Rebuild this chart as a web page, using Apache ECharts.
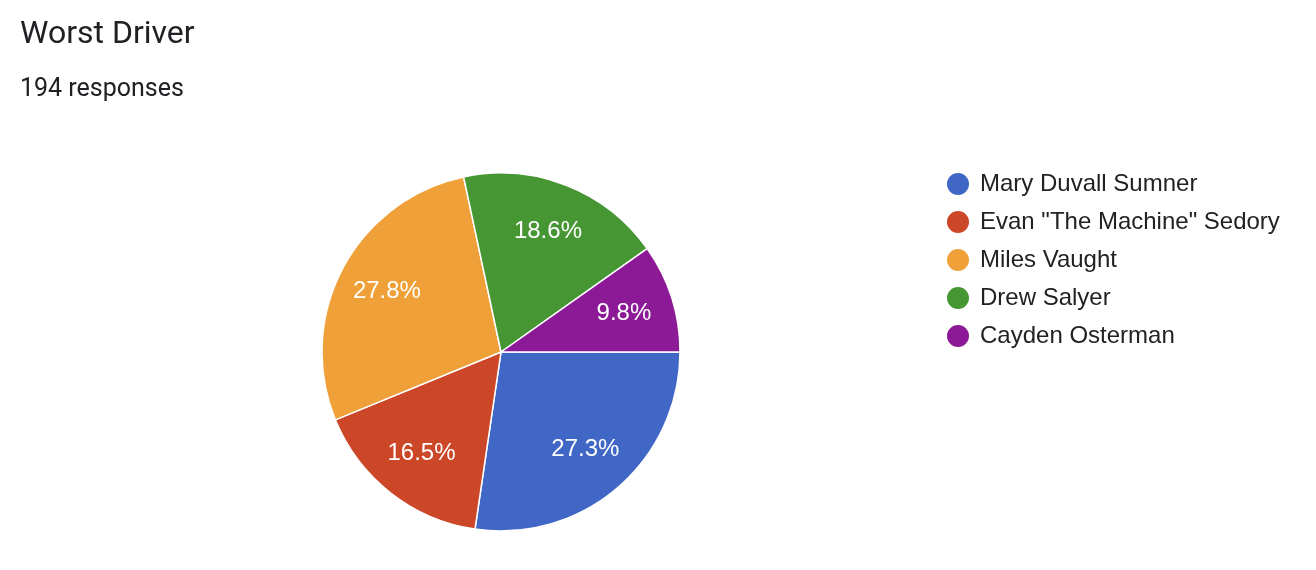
<!DOCTYPE html>
<html>
<head>
<meta charset="utf-8">
<script src="https://cdn.jsdelivr.net/npm/echarts@6/dist/echarts.min.js"></script>
<style>
  html, body { margin: 0; padding: 0; background: #fff; }
  #chart { width: 1316px; height: 570px; }
</style>
</head>
<body>
<div id="chart"></div>
<script>
// 数据
const names = ['Mary Duvall Sumner', 'Evan "The Machine" Sedory', 'Miles Vaught', 'Drew Salyer', 'Cayden Osterman'];
const counts = [53, 32, 54, 36, 19];
const colors = ['#4067c6', '#cc4628', '#f0a038', '#479634', '#8c1a96'];
const totalResponses = 194;

let chart = echarts.init(document.getElementById('chart'));

const pieData = names.map((n, i) => ({ name: n, value: counts[i] }));

let option = {
    color: colors,
    title: {
        text: 'Worst Driver',
        subtext: totalResponses + ' responses',
        left: 20,
        top: 19,
        padding: 0,
        itemGap: 26,
        textStyle: {
            fontFamily: 'Roboto',
            fontWeight: 'normal',
            fontSize: 32,
            color: '#202124'
        },
        subtextStyle: {
            fontFamily: 'Roboto',
            fontSize: 25,
            color: '#202124'
        }
    },
    legend: {
        orient: 'vertical',
        left: 940,
        top: 166,
        icon: 'circle',
        itemWidth: 24,
        itemHeight: 24,
        itemGap: 12,
        data: names,
        textStyle: {
            fontFamily: 'Arial, "Liberation Sans", sans-serif',
            fontSize: 24,
            lineHeight: 24,
            color: '#222',
            padding: [0, 0, 0, 5]
        }
    },
    series: [
        {
            name: 'Worst Driver',
            type: 'pie',
            center: [501, 352],
            radius: [0, 179],
            startAngle: 0,
            clockwise: true,
            silent: true,
            itemStyle: { borderColor: '#fff', borderWidth: 1.5 },
            label: { show: false },
            labelLine: { show: false },
            data: pieData
        },
        {
            // 只用于放标签，位置在半径约 0.7 处
            name: 'labels',
            type: 'pie',
            center: [501, 352],
            radius: [74, 178],
            startAngle: 0,
            clockwise: true,
            silent: true,
            itemStyle: { color: 'rgba(0,0,0,0)', borderWidth: 0 },
            label: {
                show: true,
                position: 'inside',
                formatter: p => p.percent.toFixed(1) + '%',
                fontFamily: 'Arial, "Liberation Sans", sans-serif',
                fontSize: 24,
                color: '#fff'
            },
            labelLine: { show: false },
            data: pieData
        }
    ]
};

chart.setOption(option);
</script>
</body>
</html>
